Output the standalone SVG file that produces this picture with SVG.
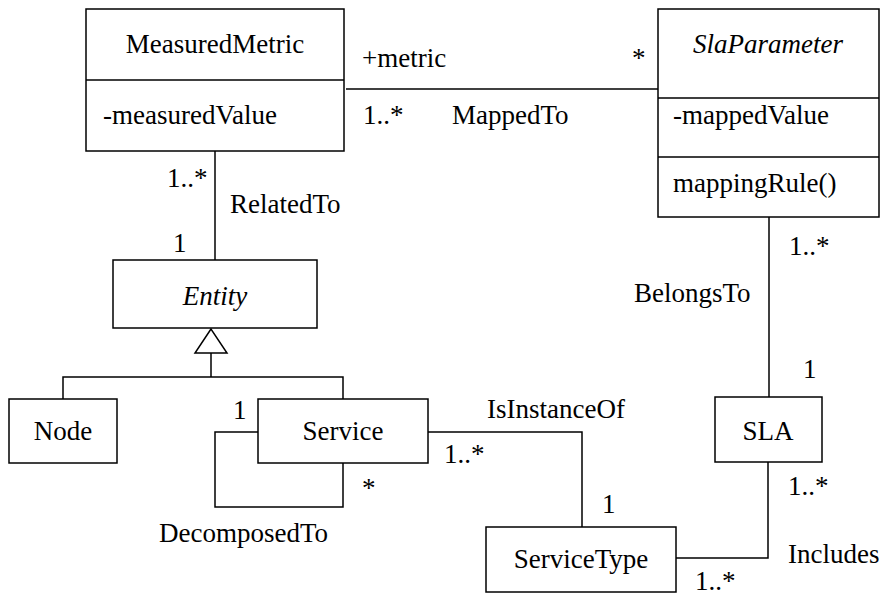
<svg xmlns="http://www.w3.org/2000/svg" width="882" height="597" viewBox="0 0 882 597">
<style>
text{font-family:'Liberation Serif','Tinos','Times New Roman','Times','Nimbus Roman','DejaVu Serif',serif;font-size:27px;fill:#000}
.m{text-anchor:middle}
.i{font-style:italic}
.b{fill:#fff;stroke:#000;stroke-width:1.5}
.c{fill:none;stroke:#000;stroke-width:1.5}
</style>
<rect width="882" height="597" fill="#fff"/>
<g id="connectors">
<path class="c" d="M346,89 H659"/>
<path class="c" d="M215,151 V260"/>
<path class="c" d="M769,217 V397"/>
<path class="c" d="M211,353 V377 M63,399 V377 H343 V399"/>
<polygon class="b" points="211,329 195,353 227,353"/>
<path class="c" d="M258,432 H215 V507 H343 V463"/>
<path class="c" d="M428,432 H582 V527"/>
<path class="c" d="M676,558 H768 V462"/>
<text x="362" y="67">+metric</text>
<text x="632" y="67">*</text>
<text x="363" y="124">1..*</text>
<text x="452" y="124">MappedTo</text>
<text x="167" y="187">1..*</text>
<text x="230" y="213">RelatedTo</text>
<text x="173" y="252">1</text>
<text x="789" y="255">1..*</text>
<text x="634" y="302">BelongsTo</text>
<text x="803" y="378">1</text>
<text x="233" y="419">1</text>
<text x="362" y="497">*</text>
<text x="159" y="542">DecomposedTo</text>
<text x="487" y="418">IsInstanceOf</text>
<text x="444" y="463">1..*</text>
<text x="602" y="513">1</text>
<text x="788" y="495">1..*</text>
<text x="788" y="563">Includes</text>
<text x="695" y="590">1..*</text>
</g>
<g id="MeasuredMetric">
<rect class="b" x="86" y="9" width="258" height="142"/>
<path class="c" d="M86,80 H344"/>
<text class="m" x="215" y="53">MeasuredMetric</text>
<text x="103" y="124">-measuredValue</text>
</g>
<g id="SlaParameter">
<rect class="b" x="658" y="9" width="221" height="208"/>
<path class="c" d="M658,98 H879 M658,157 H879"/>
<text class="m i" x="768" y="53">SlaParameter</text>
<text x="673" y="124">-mappedValue</text>
<text x="673" y="192">mappingRule()</text>
</g>
<g id="Entity">
<rect class="b" x="113" y="260" width="204" height="68"/>
<text class="m i" x="215" y="305">Entity</text>
</g>
<g id="Node">
<rect class="b" x="9" y="399" width="108" height="64"/>
<text class="m" x="63" y="440">Node</text>
</g>
<g id="Service">
<rect class="b" x="258" y="399" width="170" height="64"/>
<text class="m" x="343" y="440">Service</text>
</g>
<g id="SLA">
<rect class="b" x="715" y="397" width="107" height="65"/>
<text class="m" x="768" y="440">SLA</text>
</g>
<g id="ServiceType">
<rect class="b" x="486" y="527" width="190" height="65"/>
<text class="m" x="581" y="568">ServiceType</text>
</g>
</svg>
